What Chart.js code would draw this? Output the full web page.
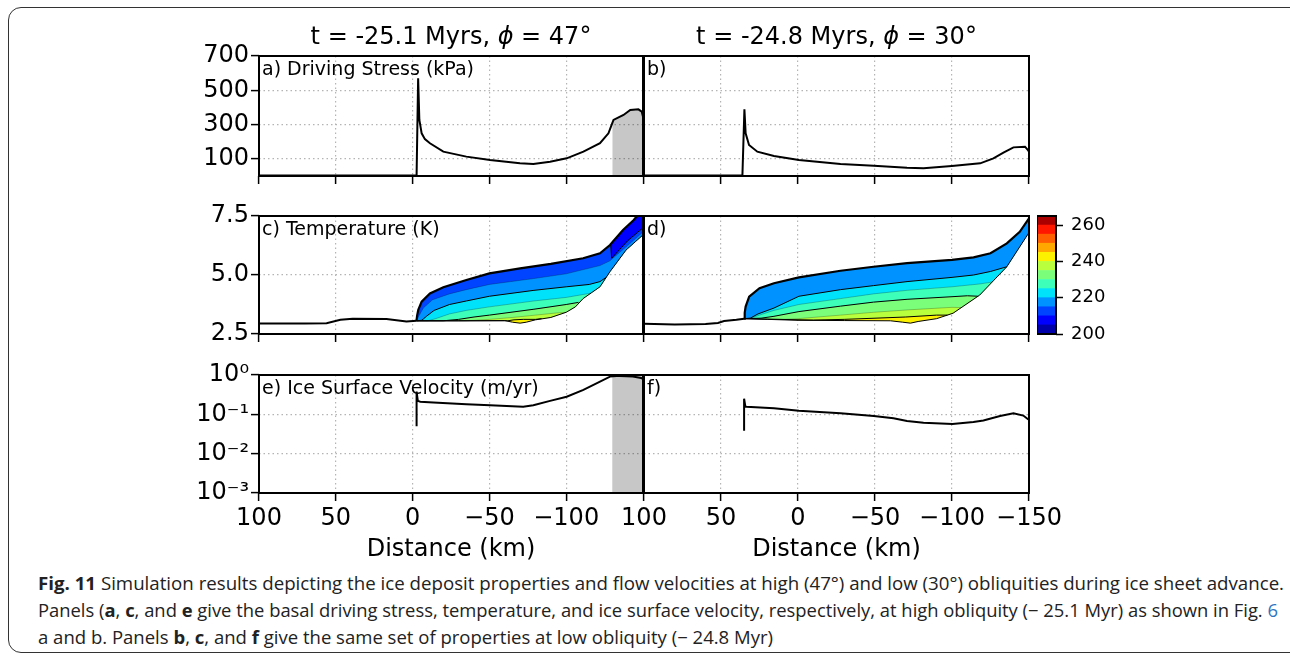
<!DOCTYPE html>
<html>
<head>
<meta charset="utf-8">
<script src="https://cdn.jsdelivr.net/npm/chart.js@4.4.1/dist/chart.umd.min.js"></script>
<style>
  body { margin: 0; width: 1290px; height: 658px; position: relative; overflow: hidden; background: #fff; }
  canvas { position: absolute; }
  #frame { position: absolute; left: 8px; top: 7px; width: 1300px; height: 646px; box-sizing: border-box;
           border: 1.6px solid #333; border-radius: 13px; }
  #caption { position: absolute; left: 38px; top: 570px; font-family: "Open Sans"; font-size: 18px;
             line-height: 27px; color: #222; white-space: nowrap; }
  #caption .cl { width: max-content; transform-origin: 0 0; }
  #caption .ref { color: #2e74c0; }
</style>
</head>
<body>
<div id="frame"></div>
<div id="caption">
  <div class="cl"><b>Fig. 11</b> Simulation results depicting the ice deposit properties and flow velocities at high (47°) and low (30°) obliquities during ice sheet advance.</div>
  <div class="cl">Panels (<b>a</b>, <b>c</b>, and <b>e</b> give the basal driving stress, temperature, and ice surface velocity, respectively, at high obliquity (− 25.1 Myr) as shown in Fig. <span class="ref">6</span></div>
  <div class="cl">a and b. Panels <b>b</b>, <b>c</b>, and <b>f</b> give the same set of properties at low obliquity (− 24.8 Myr)</div>
</div>
<script>
// ---------- values ----------
const xTicksLeft = [100, 50, 0, -50, -100];
const xTicksRight = [100, 50, 0, -50, -100, -150];
const stressTicks = [100, 300, 500, 700];
const heightTicks = [2.5, 5.0, 7.5];
const velTicks = [1e-3, 1e-2, 1e-1, 1];
const cbarTicks = [200, 220, 240, 260];

const titleLeft = ['t = -25.1 Myrs, ', 'ϕ', ' = 47°'];
const titleRight = ['t = -24.8 Myrs, ', 'ϕ', ' = 30°'];

const shadeFrom = -130; // grey zone at the right end of a) and e)

// a), b) driving stress (km, kPa)
const stressA = [[100, 3], [-2.6, 3], [-3.6, 570], [-4.4, 327], [-5.9, 249], [-8, 215], [-11.3, 191], [-20, 142],
  [-35, 113], [-50.4, 93], [-69.9, 74], [-78.6, 70], [-89.5, 83], [-100.3, 103], [-111.2, 142], [-122, 191],
  [-127.5, 249], [-130, 308], [-130.8, 327], [-137.3, 356], [-141.7, 385], [-147, 389], [-149.2, 375], [-150, 346]];
const stressB = [[100, 3], [36.1, 3], [34.8, 389], [34, 249], [31.8, 181], [26.4, 142], [15.6, 117], [-0.6, 93],
  [-27.6, 70], [-49.2, 60], [-70.8, 48], [-81.5, 45], [-99.9, 58], [-118.3, 74], [-126.9, 103], [-133.4, 136],
  [-139.9, 167], [-147.4, 171], [-149.6, 148], [-150, 140]];

// c) geometry (km, km) and isotherms (K)
const bedC = [[100, 2.95], [70, 2.94], [56, 2.96], [47, 3.1], [39, 3.15], [17, 3.14], [4, 3.03], [-2.5, 3.06]];
const surfC = [[-2.5, 3.06], [-3.0, 3.3], [-3.7, 3.52], [-5.9, 3.87], [-11.3, 4.22], [-20, 4.48], [-35, 4.79],
  [-50, 5.07], [-70, 5.28], [-90, 5.47], [-111, 5.71], [-122, 5.92], [-128.5, 6.27], [-137, 6.91], [-144, 7.33], [-150, 7.8]];
const baseC = [[-2.5, 3.06], [-30, 3.06], [-60, 3.07], [-65, 3.0], [-70, 2.96], [-74, 3.0], [-80, 3.1], [-90, 3.2],
  [-100, 3.42], [-106, 3.65], [-111, 4.0], [-122, 4.5], [-128.5, 5.14], [-139, 6.06], [-150, 6.7]];
const isoC240 = [[-2.5, 3.06], [-62, 3.06], [-66, 3.1], [-72, 3.12], [-80, 3.12], [-84, 3.15]];
const isoC235 = [[-2.5, 3.06], [-35, 3.06], [-50, 3.12], [-65, 3.2], [-80, 3.3], [-95, 3.4], [-100, 3.42]];
const isoC230 = [[-2.5, 3.06], [-20, 3.06], [-30, 3.12], [-40, 3.22], [-50, 3.3], [-79, 3.55], [-100, 3.75], [-108, 3.84]];
const isoC225 = [[-2.5, 3.06], [-10, 3.06], [-15, 3.15], [-24, 3.35], [-35, 3.5], [-50, 3.65], [-79, 3.9], [-100, 4.05], [-116, 4.23]];
const isoC220 = [[-2.5, 3.06], [-6, 3.08], [-9, 3.25], [-14, 3.5], [-24, 3.75], [-35, 3.9], [-50, 4.1], [-79, 4.35],
  [-100, 4.5], [-115, 4.6], [-122, 4.72], [-126, 4.9]];
const isoC215 = [[-2.5, 3.06], [-4, 3.25], [-7, 3.6], [-13, 3.95], [-24, 4.2], [-35, 4.38], [-50, 4.6], [-79, 4.85],
  [-100, 5.05], [-122, 5.4], [-128.5, 5.6], [-140, 6.25], [-150, 6.82]];
const isoC210 = [[-129, 6.27], [-129.6, 5.71], [-140, 6.45], [-150, 7.0]];

// d)
const bedD = [[100, 2.93], [80, 2.9], [60, 2.92], [52, 2.97], [48, 3.05], [40, 3.1], [35, 3.15]];
const surfD = [[35, 3.15], [34.6, 3.4], [34, 3.66], [31.7, 4.08], [25, 4.44], [15.6, 4.65], [-0.6, 4.9], [-27.6, 5.18],
  [-49, 5.35], [-70.8, 5.5], [-100, 5.64], [-114, 5.75], [-125, 5.92], [-135.6, 6.34], [-144, 6.83], [-150, 7.4]];
const baseD = [[35, 3.15], [20, 3.12], [0, 3.08], [-30, 3.07], [-60, 3.06], [-68, 3.0], [-73, 2.96], [-78, 3.03],
  [-90, 3.15], [-100.7, 3.38], [-118, 4.15], [-135.6, 5.35], [-150, 6.8]];
const isoD240 = [[35, 3.15], [-10, 3.09], [-30, 3.12], [-50, 3.17], [-70, 3.22], [-90, 3.3], [-97, 3.3]];
const isoD235 = [[35, 3.15], [10, 3.12], [0, 3.15], [-27.6, 3.3], [-49, 3.42], [-70.8, 3.52], [-100, 3.63], [-106, 3.62]];
const isoD230 = [[35, 3.15], [24, 3.17], [15.6, 3.25], [-0.6, 3.45], [-27.6, 3.68], [-49, 3.85], [-70.8, 3.97],
  [-100, 4.08], [-110, 4.12], [-117, 4.1]];
const isoD225 = [[35, 3.15], [30, 3.18], [25, 3.3], [15.6, 3.5], [-0.6, 3.75], [-27.6, 4.0], [-49, 4.2], [-70.8, 4.35],
  [-100, 4.5], [-118, 4.62], [-126, 4.7]];
const isoD220 = [[35, 3.15], [31, 3.17], [26, 3.35], [15.6, 3.6], [-0.6, 4.1], [-27.6, 4.38], [-49, 4.55], [-70.8, 4.72],
  [-100, 4.9], [-114, 5.0], [-125, 5.15], [-135.6, 5.35]];

// e), f) ice surface velocity (km, m/yr)
const velE = [[-2.6, 0.05], [-2.6, 0.38], [-3.4, 0.22], [-5, 0.21], [-13.5, 0.2], [-35, 0.18], [-50.4, 0.17], [-72, 0.156],
  [-78.6, 0.17], [-89.5, 0.22], [-100.3, 0.28], [-111.2, 0.42], [-122, 0.68], [-128.5, 0.91], [-134.9, 0.95],
  [-143.4, 0.92], [-148.8, 0.84], [-150, 0.8]];
const velF = [[35, 0.038], [35, 0.25], [34.2, 0.16], [33.5, 0.156], [15.6, 0.142], [-0.6, 0.124], [-27.6, 0.106],
  [-49.2, 0.091], [-62, 0.079], [-70.8, 0.068], [-81.5, 0.061], [-100.3, 0.057], [-113.9, 0.064], [-120.4, 0.07],
  [-131.2, 0.091], [-139.9, 0.106], [-146.3, 0.093], [-149.6, 0.074]];

// colour bar (K), lower edge of each 5 K band
const tempLevels = [200, 205, 210, 215, 220, 225, 230, 235, 240, 245, 250, 255, 260];
const tempColors = ['#0000ab', '#0000ff', '#0044ff', '#0093ff', '#00e1fa', '#3dffba', '#7bff7b', '#baff3d',
  '#fcf200', '#ffa900', '#ff5f00', '#ff1700', '#ab0000'];

// ---------- helpers ----------
Chart.defaults.font.family = '"DejaVu Sans"';
Chart.defaults.color = '#000';

const xy = pts => pts.map(([x, y]) => ({x, y}));
const colorFor = T => tempColors[tempLevels.indexOf(T - 5)];
const kmLabel = v => (v < 0 ? '\u2212' + (-v) : String(v));
const sup = {'0': '⁰', '1': '¹', '2': '²', '3': '³', '-': '⁻'};
const powLabel = v => '10' + String(Math.round(Math.log10(v))).split('').map(c => sup[c]).join('');

function lineSet(pts, color, width) {
  return {data: xy(pts), borderColor: color, borderWidth: width, fill: false, pointRadius: 0, tension: 0};
}
function fillSet(pts, color, fill) {
  return {data: xy(pts), borderColor: 'transparent', borderWidth: 0, backgroundColor: color,
          fill: fill || 'shape', pointRadius: 0, tension: 0};
}
// area colder than an isotherm: the isotherm, the bed past its end, then back along the surface
function region(iso, surf, base) {
  const start = iso[0][0], end = iso[iso.length - 1][0];
  return iso.concat(base.filter(p => p[0] < end), surf.filter(p => p[0] < start).reverse());
}
function tempSets(bed, base, surf, isos) {
  const ds = [fillSet(region(base, surf, base), colorFor(245))];
  isos.slice().sort((a, b) => b[0] - a[0]).forEach(([T, iso]) => ds.push(fillSet(region(iso, surf, base), colorFor(T))));
  isos.forEach(([T, iso]) => ds.push(T % 10 === 0 ? lineSet(iso, '#000', 1) : lineSet(iso, 'rgba(0,0,0,0.3)', 0.8)));
  ds.push(lineSet(base, '#000', 1), lineSet(bed, '#000', 2), lineSet(surf, '#000', 2.2));
  ds.forEach((d, i) => { d.order = ds.length - i; });
  return ds;
}

const boxPlugin = {
  id: 'box',
  afterDatasetsDraw(chart) {
    const {ctx, chartArea: a} = chart;
    ctx.save();
    ctx.strokeStyle = '#000';
    ctx.lineWidth = 2;
    ctx.strokeRect(a.left, a.top, a.right - a.left, a.bottom - a.top);
    ctx.restore();
  }
};
function textPlugin(label, title) {
  return {
    id: 'panelText',
    afterDraw(chart) {
      const {ctx, chartArea: a} = chart;
      ctx.save();
      ctx.fillStyle = '#000';
      ctx.textBaseline = 'middle';
      ctx.textAlign = 'left';
      ctx.font = '19px "DejaVu Sans"';
      ctx.fillText(label, a.left + 3, a.top + 14.5);
      if (title) {
        const fonts = title.map((t, i) => (i === 1 ? 'italic ' : '') + '24px "DejaVu Sans"');
        const widths = title.map((t, i) => { ctx.font = fonts[i]; return ctx.measureText(t).width; });
        let x = (a.left + a.right) / 2 - widths.reduce((s, w) => s + w, 0) / 2;
        title.forEach((t, i) => { ctx.font = fonts[i]; ctx.fillText(t, x, a.top - 18); x += widths[i]; });
      }
      ctx.restore();
    }
  };
}

function makeCanvas(x, y, w, h) {
  const cv = document.createElement('canvas');
  cv.width = w; cv.height = h;
  cv.style.left = x + 'px'; cv.style.top = y + 'px';
  document.body.appendChild(cv);
  return cv;
}

const cols = [{left: 259, width: 384, yAxis: 70, padR: 6}, {left: 644, width: 385, yAxis: 40, padR: 40}];
const rows = [{top: 56, height: 120, padT: 56, xAxis: 12}, {top: 216, height: 118, padT: 20, xAxis: 12},
              {top: 375, height: 118, padT: 20, xAxis: 78}];
const gridOpts = {color: '#b4b4b4', lineWidth: 1.2, tickLength: 8, tickColor: '#000', tickWidth: 1.5};
const dotted = {display: false, dash: [1.5, 3]};

function panel(col, row, spec) {
  const c = cols[col], r = rows[row];
  const isLeft = col === 0, isBottom = row === 2;
  const cv = makeCanvas(c.left - c.yAxis, r.top - r.padT, c.yAxis + c.width + c.padR, r.padT + r.height + r.xAxis);
  return new Chart(cv, {
    type: 'line',
    data: {datasets: spec.datasets},
    options: {
      responsive: false, animation: false, events: [],
      layout: {padding: {top: r.padT, right: c.padR, bottom: 0, left: 0}},
      plugins: {legend: {display: false}, tooltip: {enabled: false}},
      scales: {
        x: {
          type: 'linear', min: -150, max: 100, reverse: true, bounds: 'data',
          afterBuildTicks: s => { s.ticks = (isLeft ? xTicksLeft : xTicksRight).map(v => ({value: v})); },
          afterFit: s => { s.height = r.xAxis; s.paddingLeft = 0; s.paddingRight = 0; },
          grid: gridOpts, border: dotted,
          ticks: {display: isBottom, font: {size: 24}, padding: 3, maxRotation: 0, autoSkip: false, callback: kmLabel},
          title: {display: isBottom, text: 'Distance (km)', font: {size: 24}, padding: {top: 0, bottom: 7}}
        },
        y: Object.assign({
          bounds: 'data',
          afterBuildTicks: s => { s.ticks = spec.yTicks.map(v => ({value: v})); },
          afterFit: s => { s.width = c.yAxis; s.paddingTop = 0; s.paddingBottom = 0; },
          grid: Object.assign({}, gridOpts, {drawTicks: isLeft}), border: dotted,
          ticks: {display: isLeft, font: {size: 24}, padding: 2, autoSkip: false, callback: spec.yLabel}
        }, spec.y)
      }
    },
    plugins: [boxPlugin, textPlugin(spec.label, spec.title)]
  });
}

// ---------- panels ----------
const stressY = {type: 'linear', min: 0, max: 700};
const heightY = {type: 'linear', min: 2.5, max: 7.5};
const velY = {type: 'logarithmic', min: 1e-3, max: 1};

panel(0, 0, {
  label: 'a) Driving Stress (kPa)', title: titleLeft, y: stressY, yTicks: stressTicks, yLabel: v => String(v),
  datasets: [lineSet(stressA, '#000', 2), fillSet(stressA.filter(p => p[0] <= shadeFrom), 'rgba(0,0,0,0.22)', 'origin')]
});
panel(1, 0, {
  label: 'b)', title: titleRight, y: stressY, yTicks: stressTicks, yLabel: v => String(v),
  datasets: [lineSet(stressB, '#000', 2)]
});
panel(0, 1, {
  label: 'c) Temperature (K)', y: heightY, yTicks: heightTicks, yLabel: v => v.toFixed(1),
  datasets: tempSets(bedC, baseC, surfC, [[210, isoC210], [215, isoC215], [220, isoC220], [225, isoC225],
                                          [230, isoC230], [235, isoC235], [240, isoC240]])
});
panel(1, 1, {
  label: 'd)', y: heightY, yTicks: heightTicks, yLabel: v => v.toFixed(1),
  datasets: tempSets(bedD, baseD, surfD, [[220, isoD220], [225, isoD225], [230, isoD230], [235, isoD235], [240, isoD240]])
});
panel(0, 2, {
  label: 'e) Ice Surface Velocity (m/yr)', y: velY, yTicks: velTicks, yLabel: powLabel,
  datasets: [lineSet(velE, '#000', 2),
    fillSet([[shadeFrom, velY.min], [shadeFrom, velY.max], [-150, velY.max], [-150, velY.min]], 'rgba(0,0,0,0.22)')]
});
panel(1, 2, {
  label: 'f)', y: velY, yTicks: velTicks, yLabel: powLabel,
  datasets: [lineSet(velF, '#000', 2)]
});

// ---------- colour bar ----------
new Chart(makeCanvas(1037, 206, 69, 138), {
  type: 'bar',
  data: {
    labels: [''],
    datasets: tempLevels.map((lo, i) => ({data: [[lo, lo + 5]], backgroundColor: tempColors[i], borderWidth: 0,
                                          barPercentage: 1, categoryPercentage: 1}))
  },
  options: {
    responsive: false, animation: false, events: [],
    layout: {padding: {top: 10, bottom: 10, left: 0, right: 0}},
    plugins: {legend: {display: false}, tooltip: {enabled: false}},
    scales: {
      x: {display: false, stacked: true},
      y: {
        position: 'right', min: 200, max: 265, bounds: 'data',
        afterBuildTicks: s => { s.ticks = cbarTicks.map(v => ({value: v})); },
        afterFit: s => { s.width = 50; s.paddingTop = 0; s.paddingBottom = 0; },
        grid: {drawOnChartArea: false, tickLength: 7, tickColor: '#000', tickWidth: 1.5},
        border: {display: false},
        ticks: {font: {size: 18}, padding: 8}
      }
    }
  },
  plugins: [boxPlugin]
});

// ---------- caption lines squeezed to the printed widths ----------
const capWidths = [1246, 1240, 735];
document.querySelectorAll('#caption .cl').forEach((el, i) => {
  const w = el.getBoundingClientRect().width;
  el.style.transform = 'scaleX(' + (capWidths[i] / w).toFixed(4) + ')';
});
</script>
</body>
</html>
